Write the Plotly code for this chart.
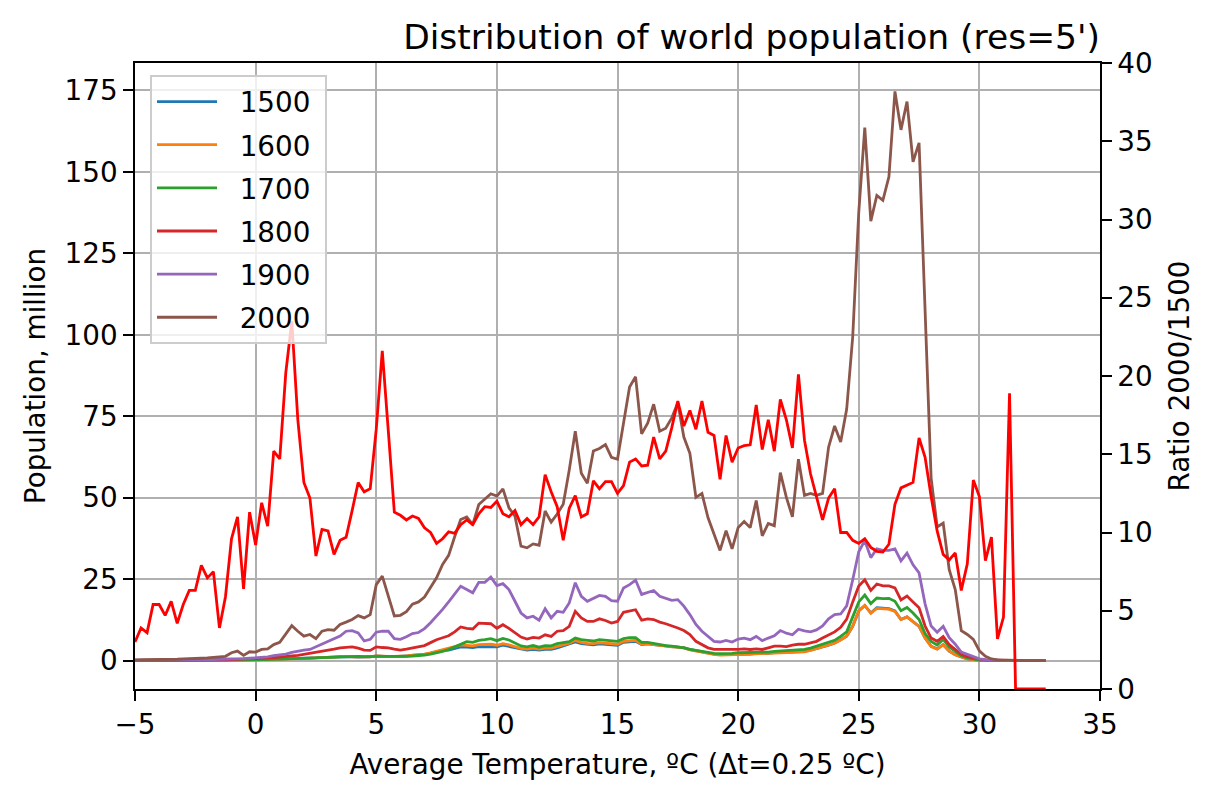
import numpy as np
import plotly.graph_objects as go

# Temperature bins (Δt = 0.25 ºC)
temps = np.arange(-5.0, 33.0, 0.25)

pop_1500 = [
    0.05, 0.05, 0.08, 0.06, 0.06, 0.08, 0.07, 0.09,
    0.09, 0.08, 0.09, 0.09, 0.11, 0.12, 0.25, 0.22,
    0.25, 0.26, 0.25, 0.24, 0.28, 0.29, 0.35, 0.32,
    0.38, 0.41, 0.45, 0.52, 0.57, 0.65, 0.79, 0.88,
    0.94, 1.08, 1.17, 1.22, 1.10, 1.05, 1.04, 1.10,
    1.40, 1.20, 1.19, 1.21, 1.25, 1.39, 1.57, 1.65,
    1.90, 2.25, 2.70, 3.10, 3.20, 3.80, 4.20, 4.10,
    4.00, 4.30, 4.30, 4.40, 4.20, 4.70, 4.30, 3.90,
    3.40, 3.20, 3.40, 3.20, 3.40, 3.40, 3.90, 4.50,
    5.00, 5.70, 5.20, 4.90, 4.80, 5.10, 5.00, 4.70,
    4.70, 5.60, 5.80, 5.90, 4.90, 5.10, 4.90, 4.60,
    4.50, 4.30, 4.20, 4.00, 3.40, 3.00, 2.60, 2.30,
    2.00, 1.80, 1.80, 1.80, 2.00, 2.00, 2.00, 2.20,
    2.10, 2.20, 2.40, 2.60, 2.50, 2.60, 2.70, 2.80,
    3.20, 3.60, 4.20, 4.70, 5.40, 6.40, 7.50, 10.5,
    15.2, 16.9, 14.6, 16.2, 16.1, 15.9, 15.2, 12.6,
    13.4, 11.8, 10.5, 6.90, 4.40, 3.60, 4.90, 2.90,
    1.80, 1.10, 0.50, 0.30, 0.10, 0.04, 0.01, 0.01,
    0.0, 0.0, 0.0, 0.0, 0.0, 0.0, 0.0, 0.0,
]

pop_1600 = [
    0.05, 0.05, 0.08, 0.07, 0.07, 0.08, 0.08, 0.09,
    0.09, 0.09, 0.10, 0.10, 0.12, 0.13, 0.26, 0.23,
    0.27, 0.28, 0.28, 0.27, 0.30, 0.32, 0.38, 0.35,
    0.41, 0.45, 0.49, 0.56, 0.62, 0.70, 0.84, 0.93,
    1.00, 1.14, 1.23, 1.28, 1.17, 1.12, 1.10, 1.16,
    1.45, 1.26, 1.25, 1.27, 1.31, 1.45, 1.64, 1.72,
    2.00, 2.36, 2.83, 3.30, 3.60, 4.30, 4.80, 4.60,
    4.50, 4.90, 4.90, 5.00, 4.70, 5.20, 4.80, 4.30,
    3.70, 3.50, 3.80, 3.50, 3.80, 3.80, 4.30, 4.80,
    5.30, 6.20, 5.60, 5.30, 5.20, 5.50, 5.40, 5.10,
    5.00, 5.90, 6.10, 6.20, 5.00, 5.20, 4.90, 4.60,
    4.40, 4.20, 4.10, 3.90, 3.30, 2.90, 2.50, 2.20,
    1.90, 1.70, 1.70, 1.70, 1.90, 1.90, 2.00, 2.10,
    2.00, 2.10, 2.30, 2.50, 2.40, 2.50, 2.60, 2.70,
    3.10, 3.60, 4.10, 4.70, 5.30, 6.30, 7.50, 10.6,
    15.3, 16.9, 14.5, 16.0, 15.9, 15.8, 15.1, 12.6,
    13.4, 11.8, 10.5, 6.90, 4.30, 3.50, 4.80, 2.90,
    1.80, 1.10, 0.50, 0.30, 0.10, 0.04, 0.01, 0.01,
    0.0, 0.0, 0.0, 0.0, 0.0, 0.0, 0.0, 0.0,
]

pop_1700 = [
    0.02, 0.02, 0.03, 0.03, 0.03, 0.04, 0.04, 0.05,
    0.05, 0.06, 0.06, 0.07, 0.08, 0.09, 0.10, 0.10,
    0.15, 0.17, 0.20, 0.22, 0.25, 0.30, 0.33, 0.37,
    0.45, 0.50, 0.55, 0.60, 0.70, 0.75, 0.80, 0.90,
    1.00, 1.05, 1.10, 1.20, 1.30, 1.30, 1.20, 1.15,
    1.20, 1.25, 1.30, 1.25, 1.25, 1.30, 1.40, 1.50,
    1.70, 2.00, 2.30, 2.80, 3.40, 4.20, 5.20, 5.80,
    5.60, 6.20, 6.40, 6.70, 6.10, 6.80, 6.30, 5.40,
    4.50, 4.20, 4.60, 4.10, 4.60, 4.50, 5.20, 5.50,
    5.80, 6.90, 6.40, 6.20, 6.00, 6.40, 6.20, 6.00,
    5.90, 6.70, 7.00, 7.00, 5.60, 5.60, 5.20, 4.90,
    4.60, 4.40, 4.20, 3.90, 3.40, 3.10, 2.70, 2.40,
    2.20, 2.10, 2.10, 2.20, 2.40, 2.40, 2.60, 2.40,
    2.60, 2.60, 2.80, 2.90, 2.90, 3.10, 3.20, 3.40,
    3.80, 4.40, 5.00, 5.60, 6.20, 7.40, 8.80, 13.4,
    18.0, 20.1, 17.5, 19.2, 19.0, 19.1, 18.2, 15.3,
    16.3, 14.6, 12.6, 8.30, 5.90, 4.80, 6.50, 4.20,
    2.90, 1.50, 0.80, 0.40, 0.15, 0.05, 0.02, 0.01,
    0.0, 0.0, 0.0, 0.0, 0.0, 0.0, 0.0, 0.0,
]

pop_1800 = [
    0.05, 0.05, 0.05, 0.05, 0.05, 0.10, 0.10, 0.10,
    0.10, 0.10, 0.10, 0.15, 0.15, 0.20, 0.20, 0.20,
    0.30, 0.35, 0.40, 0.50, 0.60, 0.70, 0.80, 0.90,
    1.00, 1.20, 1.40, 1.60, 1.90, 2.10, 2.40, 2.80,
    3.10, 3.50, 3.90, 4.10, 4.20, 3.80, 3.20, 3.10,
    4.20, 4.00, 3.90, 3.50, 3.20, 3.50, 3.90, 4.20,
    4.60, 5.50, 6.40, 7.00, 7.60, 8.80, 10.3, 9.90,
    9.70, 11.5, 11.5, 11.3, 9.90, 11.0, 9.90, 8.50,
    7.20, 6.60, 7.10, 6.90, 7.90, 7.40, 9.00, 9.20,
    10.5, 15.1, 13.1, 12.0, 12.0, 12.8, 12.3, 11.5,
    12.0, 14.8, 15.1, 15.6, 12.4, 12.8, 12.6, 11.8,
    11.3, 10.7, 10.0, 9.20, 8.00, 5.90, 4.90, 3.90,
    3.40, 3.40, 3.40, 3.20, 3.40, 3.60, 3.40, 3.60,
    3.40, 3.90, 4.40, 4.40, 4.30, 4.70, 5.00, 5.00,
    5.40, 5.90, 6.90, 7.90, 8.80, 10.2, 12.7, 18.0,
    22.9, 24.8, 21.5, 23.5, 22.9, 22.9, 22.3, 18.6,
    19.8, 18.0, 16.2, 10.6, 6.90, 5.90, 7.40, 4.90,
    3.40, 1.90, 1.20, 0.70, 0.40, 0.20, 0.10, 0.05,
    0.02, 0.01, 0.0, 0.0, 0.0, 0.0, 0.0, 0.0,
]

pop_1900 = [
    0.10, 0.10, 0.10, 0.10, 0.10, 0.10, 0.20, 0.20,
    0.20, 0.20, 0.20, 0.30, 0.30, 0.30, 0.40, 0.40,
    0.50, 0.60, 0.60, 0.70, 0.80, 1.00, 1.10, 1.50,
    1.70, 2.00, 2.50, 2.90, 3.20, 3.40, 4.20, 4.90,
    5.70, 6.70, 7.50, 9.00, 9.20, 8.50, 6.00, 6.50,
    8.70, 9.00, 9.00, 6.70, 6.50, 7.30, 8.30, 8.60,
    9.80, 11.6, 13.6, 15.7, 18.0, 20.5, 22.8, 21.8,
    20.8, 24.0, 24.0, 25.6, 23.0, 23.6, 21.8, 18.2,
    14.6, 13.1, 13.6, 12.4, 15.9, 13.1, 15.1, 14.8,
    17.7, 23.9, 19.7, 18.2, 19.2, 20.0, 19.7, 18.4,
    18.2, 22.3, 23.3, 24.7, 20.3, 21.0, 21.5, 19.7,
    19.0, 18.5, 18.7, 16.7, 14.1, 11.1, 9.00, 7.50,
    5.90, 5.70, 6.20, 5.70, 6.60, 6.90, 6.40, 7.40,
    6.10, 6.90, 7.60, 9.20, 8.40, 7.90, 9.60, 9.10,
    8.80, 9.40, 10.6, 12.8, 14.1, 14.3, 16.8, 24.8,
    33.4, 36.8, 31.6, 34.3, 33.8, 33.8, 34.3, 30.6,
    33.0, 29.4, 26.9, 17.4, 10.6, 8.70, 10.5, 7.00,
    5.00, 2.60, 1.90, 1.00, 0.50, 0.25, 0.10, 0.05,
    0.02, 0.01, 0.0, 0.0, 0.0, 0.0, 0.0, 0.0,
]

pop_2000 = [
    0.20, 0.20, 0.30, 0.30, 0.30, 0.40, 0.40, 0.40,
    0.50, 0.50, 0.60, 0.70, 0.80, 0.90, 1.00, 1.30,
    2.40, 2.90, 1.60, 2.70, 2.60, 3.40, 3.60, 4.90,
    5.60, 8.30, 10.7, 9.00, 7.50, 8.00, 6.70, 9.00,
    9.50, 9.30, 11.1, 11.8, 12.6, 13.8, 13.1, 14.1,
    23.3, 25.9, 19.7, 13.7, 13.9, 15.0, 17.3, 18.0,
    19.5, 22.5, 25.4, 29.5, 32.3, 38.0, 43.3, 44.1,
    41.7, 47.9, 49.6, 51.2, 50.5, 52.7, 46.9, 44.3,
    35.1, 34.6, 35.8, 35.4, 45.9, 42.5, 45.0, 48.0,
    58.5, 70.4, 57.5, 54.4, 64.3, 65.1, 66.3, 62.4,
    61.8, 73.5, 84.0, 87.1, 69.6, 72.9, 78.7, 70.4,
    71.3, 74.5, 79.1, 68.6, 63.6, 50.1, 51.3, 43.9,
    39.0, 33.8, 39.9, 34.3, 40.8, 42.7, 40.8, 49.1,
    38.3, 42.1, 41.4, 57.7, 50.1, 44.1, 61.8, 50.7,
    51.3, 50.7, 51.3, 65.5, 72.0, 67.1, 77.2, 99.4,
    137.6, 163.6, 134.9, 142.8, 141.3, 148.5, 174.7, 162.9,
    171.6, 153.1, 158.9, 108.0, 56.0, 41.0, 42.2, 27.9,
    21.8, 9.20, 8.00, 6.50, 3.00, 1.30, 0.50, 0.20,
    0.10, 0.05, 0.02, 0.01, 0.0, 0.0, 0.0, 0.0,
]

ratio_2000_1500 = [
    3.0, 3.9, 3.6, 5.4, 5.4, 4.7, 5.6, 4.2,
    5.4, 6.3, 6.3, 7.9, 7.1, 7.5, 3.9, 5.9,
    9.6, 11.0, 6.4, 11.3, 9.2, 11.9, 10.4, 15.2,
    14.7, 20.2, 23.5, 17.2, 13.2, 12.2, 8.5, 10.2,
    10.1, 8.6, 9.5, 9.7, 11.4, 13.2, 12.6, 12.8,
    16.6, 21.6, 16.5, 11.3, 11.1, 10.8, 11.05, 10.9,
    10.3, 10.0, 9.3, 9.6, 10.05, 9.95, 10.5, 10.8,
    10.5, 11.2, 11.65, 11.6, 12.0, 11.2, 11.0, 11.4,
    10.5, 10.9, 10.5, 11.0, 13.7, 12.6, 11.65, 9.5,
    11.55, 12.35, 11.0, 11.2, 13.3, 12.8, 13.25, 13.25,
    12.5, 13.0, 14.5, 14.7, 14.25, 14.3, 16.1, 14.7,
    15.2, 16.7, 18.4, 16.8, 17.8, 16.6, 18.4, 16.4,
    16.2, 13.4, 16.2, 14.5, 15.4, 15.55, 15.6, 18.15,
    15.3, 17.2, 15.2, 18.5, 17.2, 15.4, 20.1, 15.9,
    13.75, 12.2, 10.8, 12.2, 12.8, 10.0, 10.0, 9.5,
    9.3, 9.6, 9.05, 8.8, 8.75, 9.25, 11.8, 12.85,
    13.0, 13.2, 16.05, 14.8, 12.3, 10.1, 8.6, 8.25,
    8.7, 6.3, 8.0, 13.35, 12.3, 8.2, 9.7, 3.2,
    4.6, 18.9, 0.0, 0.0, 0.0, 0.0, 0.0, 0.0,
]

years = ["1500", "1600", "1700", "1800", "1900", "2000"]
series = [pop_1500, pop_1600, pop_1700, pop_1800, pop_1900, pop_2000]
colors = ["#1f77b4", "#ff7f0e", "#2ca02c", "#d62728", "#9467bd", "#8c564b"]

FONT = "DejaVu Sans"
FS = 27.8
LW = 2.8
NB = "\u00a0\u00a0"  # spacing between legend handle and label

fig = go.Figure()
for name, vals, col in zip(years, series, colors):
    fig.add_trace(go.Scatter(
        x=temps, y=vals, mode="lines", name=NB + name + "\u00a0", legendgroup=name,
        line=dict(color=col, width=LW), yaxis="y",
    ))

fig.add_trace(go.Scatter(
    x=temps, y=ratio_2000_1500, mode="lines", name="ratio",
    line=dict(color="#ff0000", width=LW), yaxis="y2", showlegend=False,
))

axis_common = dict(
    showline=True, linecolor="black", linewidth=2.2,
    ticks="outside", ticklen=9.7, tickwidth=2.2, tickcolor="black",
    tickfont=dict(family=FONT, size=FS, color="black"),
    zeroline=False,
)

# The page body adds an 8px offset; figure sized so the plot area lands
# at x 135..1100, y 63..689 of the window.
fig.update_layout(
    width=1210, height=792,
    margin=dict(l=127, r=118, t=55, b=111),
    paper_bgcolor="white", plot_bgcolor="white",
    font=dict(family=FONT, size=FS, color="black"),
    title=dict(
        text="Distribution of world population (res=5')",
        font=dict(family=FONT, size=34.5, color="black"),
        xref="paper", x=1, xanchor="right",
        yref="container", y=1 - 29 / 792, yanchor="middle",
    ),
    xaxis=dict(
        range=[-5, 35], tick0=-5, dtick=5, mirror=True,
        showgrid=True, gridcolor="#b0b0b0", gridwidth=2.2,
        title=dict(text="Average Temperature, ºC (Δt=0.25 ºC)",
                   font=dict(family=FONT, size=FS), standoff=14),
        **axis_common,
    ),
    yaxis=dict(
        range=[-8.735, 183.435], tick0=0, dtick=25, mirror=True,
        showgrid=True, gridcolor="#b0b0b0", gridwidth=2.2,
        title=dict(text="Population, million",
                   font=dict(family=FONT, size=FS), standoff=11),
        **axis_common,
    ),
    yaxis2=dict(
        range=[0, 40], tick0=0, dtick=5, overlaying="y", side="right",
        showgrid=False,
        title=dict(text="Ratio 2000/1500",
                   font=dict(family=FONT, size=FS), standoff=18),
        **axis_common,
    ),
    legend=dict(
        x=15 / 965, y=1 - 12 / 626, xanchor="left", yanchor="top",
        bgcolor="rgba(255,255,255,0.8)", bordercolor="#cccccc", borderwidth=2,
        font=dict(family=FONT, size=FS, color="black"),
        traceorder="grouped", tracegroupgap=4, itemwidth=60,
    ),
    showlegend=True,
)

fig.write_html("out.html")
